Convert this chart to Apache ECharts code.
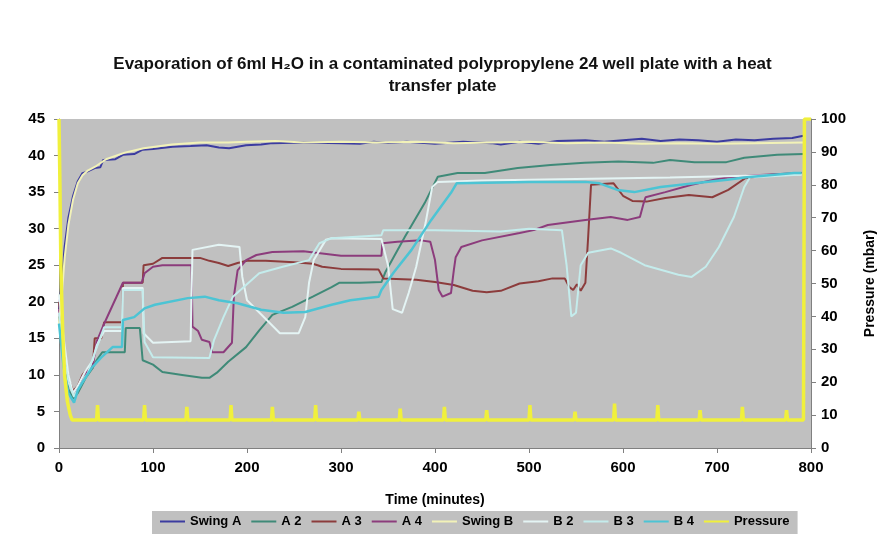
<!DOCTYPE html>
<html>
<head>
<meta charset="utf-8">
<script src="https://cdn.jsdelivr.net/npm/echarts@6/dist/echarts.min.js"></script>
<style>
html,body{margin:0;padding:0;background:#fff;}
#chart{width:885px;height:535px;}
</style>
</head>
<body>
<div id="chart"></div>
<script>
// ---- data (time in minutes, value) ----
const seriesNames = ['Swing A','A 2','A 3','A 4','Swing B','B 2','B 3','B 4','Pressure'];
const xTicks = [0,100,200,300,400,500,600,700,800];
const leftTicks = [0,5,10,15,20,25,30,35,40,45];
const rightTicks = [0,10,20,30,40,50,60,70,80,90,100];

const swingA = [[0,19],[3,23],[6,27.5],[10,31.5],[15,34.5],[20,36.5],[25,37.6],[30,37.8],[38,38.3],[44,38.4],[47,39.4],[60,39.5],[68,40.1],[80,40.2],[89,40.8],[100,40.9],[121,41.2],[140,41.3],[157,41.4],[170,41.1],[181,41.0],[190,41.2],[199,41.4],[215,41.5],[227,41.7],[260,41.8],[300,41.7],[320,41.6],[335,41.9],[350,41.7],[370,41.9],[400,41.6],[430,41.9],[460,41.7],[470,41.5],[490,41.9],[510,41.6],[530,42],[560,42.1],[580,41.9],[600,42.1],[620,42.3],[640,42],[660,42.2],[680,42.1],[700,41.9],[720,42.2],[740,42.1],[760,42.3],[780,42.4],[792,42.7]];

const a2 = [[0,18],[5,12],[10,8],[15,6.8],[20,7.5],[28,9.5],[36,11],[40,12],[46,13.1],[70,13.1],[71,16.4],[86,16.4],[89,12],[100,11.4],[110,10.4],[131,10],[152,9.6],[160,9.6],[168,10.3],[180,11.8],[199,13.8],[213,16.1],[227,18.2],[248,19.3],[270,20.7],[290,22],[298,22.6],[320,22.6],[343,22.7],[347,24],[368,28.9],[389,33.5],[403,37.1],[424,37.6],[453,37.6],[488,38.3],[523,38.7],[559,39],[595,39.2],[632,39],[650,39.4],[676,39.1],[710,39.1],[729,39.7],[764,40.1],[792,40.2]];

const a3 = [[0,20],[5,14],[10,9.5],[15,7.8],[20,8.5],[25,10],[30,10.8],[36,11],[38,15],[45,15],[48,17.2],[67,17.2],[68,22.6],[89,22.6],[90,25],[100,25.2],[110,26],[150,26],[160,25.6],[170,25.3],[180,24.9],[190,25.3],[200,25.6],[220,25.6],[250,25.4],[270,25.2],[280,24.8],[300,24.5],[340,24.4],[345,23.2],[380,23.0],[400,22.7],[420,22.3],[440,21.5],[455,21.3],[470,21.5],[490,22.5],[510,22.8],[525,23.2],[538,23.2],[543,22.0],[547,21.6],[551,22.4],[555,21.5],[560,22.6],[563,29],[566,36],[590,36.2],[600,34.5],[610,33.8],[625,33.7],[645,34.2],[670,34.6],[695,34.3],[712,35.3],[730,36.9],[760,37.4],[790,37.6]];

const a4 = [[0,19],[5,13],[10,9],[15,7.6],[20,8.2],[25,9.8],[30,10.5],[36,11.3],[40,14.5],[48,17],[68,22.6],[88,22.6],[91,23.9],[100,24.8],[110,25],[141,25],[142,16.6],[148,16],[152,14.8],[160,14.5],[163,13.1],[175,13.1],[184,14.4],[186,20.7],[190,24.3],[199,25.7],[210,26.4],[227,26.8],[260,26.9],[280,26.6],[300,26.3],[343,26.3],[344,28],[360,28.2],[385,28.4],[395,28.2],[400,25.7],[404,21.6],[408,20.7],[417,21.2],[420,24.3],[422,26.1],[428,27.5],[450,28.4],[490,29.4],[505,29.8],[520,30.5],[560,31.2],[587,31.6],[605,31.2],[618,31.6],[622,33.5],[624,34.3],[645,35],[673,36],[697,36.7],[711,37],[740,37.3],[790,37.6]];

const swingB = [[0,17],[3,21],[6,26],[10,30.5],[15,34],[20,36.2],[25,37.3],[30,37.9],[40,38.6],[50,39.5],[70,40.4],[90,41],[120,41.5],[150,41.8],[180,41.8],[200,41.9],[230,42],[260,41.8],[300,41.9],[340,41.8],[380,41.9],[420,41.7],[460,41.8],[500,41.9],[540,41.7],[580,41.8],[620,41.6],[660,41.7],[700,41.6],[740,41.7],[792,41.8]];

const b2 = [[0,21],[5,15],[10,10],[15,7.5],[20,8.5],[28,10.5],[36,12],[40,14],[48,16],[67,16],[68,21.9],[89,21.9],[90,15.7],[100,14.4],[140,14.6],[142,27.1],[170,27.8],[192,27.5],[195,23.4],[200,20.2],[221,17.5],[235,15.7],[255,15.7],[262,17.9],[266,22.6],[271,25.7],[284,28.5],[290,28.7],[343,28.6],[350,25],[355,19],[365,18.5],[372,21.2],[380,24.8],[390,30.8],[397,35.7],[403,36.4],[450,36.6],[550,36.8],[650,37],[790,37.4]];

const b3 = [[0,18.5],[5,13],[10,9],[16,7],[22,8.5],[30,10],[38,13],[48,16.5],[67,16.5],[68,21.6],[89,21.6],[91,14.5],[100,12.4],[160,12.3],[165,14.8],[175,17.9],[185,20.7],[213,23.9],[238,24.8],[266,25.7],[277,28],[290,28.7],[343,29.1],[345,29.8],[400,29.8],[470,29.6],[500,30],[535,29.8],[540,25],[545,18],[550,18.5],[555,25],[563,26.7],[587,27.3],[598,26.7],[623,25],[659,23.7],[673,23.4],[688,24.8],[702,27.5],[718,31.6],[729,35.7],[735,37],[790,37.4]];

const b4 = [[0,17],[5,11],[10,7.5],[16,6.2],[20,7.9],[25,9],[30,10],[35,11],[45,12.4],[57,13.8],[67,13.8],[68,17.5],[80,17.9],[91,19.1],[102,19.6],[137,20.5],[155,20.7],[170,20.2],[190,19.8],[215,18.9],[239,18.5],[262,18.6],[290,19.6],[310,20.2],[340,20.7],[343,21.6],[356,24],[375,27.1],[396,31.2],[417,34.9],[423,36.2],[500,36.4],[560,36.4],[575,36.2],[594,35.3],[612,35],[640,35.7],[676,36.2],[711,36.7],[729,37],[782,37.6],[790,37.6]];

const pressure = [[0,100],[1,80],[2,55],[4,35],[6,22],[9,14],[12,10],[14,8.5],[40,8.5],[41,13],[42,8.5],[90,8.5],[91,13],[92,8.5],[135,8.5],[136,12.5],[137,8.5],[182,8.5],[183,13],[184,8.5],[226,8.5],[227,12.5],[228,8.5],[272,8.5],[273,13],[274,8.5],[318,8.5],[319,11],[320,8.5],[362,8.5],[363,12],[364,8.5],[409,8.5],[410,12.5],[411,8.5],[454,8.5],[455,11.5],[456,8.5],[500,8.5],[501,13],[502,8.5],[548,8.5],[549,11],[550,8.5],[590,8.5],[591,13.5],[592,8.5],[636,8.5],[637,13],[638,8.5],[681,8.5],[682,11.5],[683,8.5],[726,8.5],[727,12.5],[728,8.5],[773,8.5],[774,11.5],[775,8.5],[792,8.5],[793,100],[800,100]];

const colors = ['#3c3ca0','#3f8a78','#8c3c3c','#8c3c7c','#f2f2b8','#e4f4f4','#c4ecec','#4cc4d4','#f0f03c'];
const dataSets = [swingA,a2,a3,a4,swingB,b2,b3,b4,pressure];
const widths = [2,2,2,2,2,2,2,2.5,3.5];

const chart = echarts.init(document.getElementById('chart'));
const FONT = 'Liberation Sans, Arial, sans-serif';
const labelStyle = {color:'#000',fontWeight:'bold',fontSize:15,fontFamily:FONT};
const axisLine = {show:true,lineStyle:{color:'#808080',width:1}};
const option = {
  backgroundColor:'#ffffff',
  animation:false,
  title:{
    text:'Evaporation of 6ml H\u2082O in a contaminated polypropylene 24 well plate with a heat\ntransfer plate',
    left:'center', top:48,
    textStyle:{fontSize:17,fontWeight:'bold',color:'#111',fontFamily:FONT,lineHeight:22}
  },
  legend:{
    data:seriesNames, left:152, top:511,
    backgroundColor:'#c0c0c0', padding:[4,8,6,8],
    icon:'rect', itemWidth:25, itemHeight:2, itemGap:10,
    textStyle:{color:'#000',fontWeight:'bold',fontSize:13,fontFamily:FONT}
  },
  grid:{left:59,right:71,top:119,bottom:87,show:true,backgroundColor:'#c0c0c0',borderWidth:0},
  xAxis:{type:'value',min:0,max:800,interval:100,
    name:'Time (minutes)',nameLocation:'middle',nameGap:45,
    nameTextStyle:{color:'#000',fontWeight:'bold',fontSize:14,fontFamily:FONT},
    axisLine:axisLine,axisTick:{show:true,length:5,lineStyle:{color:'#808080'}},
    axisLabel:Object.assign({margin:12},labelStyle),splitLine:{show:false}},
  yAxis:[
    {type:'value',min:0,max:45,interval:5,position:'left',
     axisLine:axisLine,axisTick:{show:true,length:5,lineStyle:{color:'#808080'}},
     axisLabel:Object.assign({margin:14},labelStyle),splitLine:{show:false}},
    {type:'value',min:0,max:100,interval:10,position:'right',
     name:'Pressure (mbar)',nameLocation:'middle',nameGap:52,nameRotate:90,
     nameTextStyle:{color:'#000',fontWeight:'bold',fontSize:14,fontFamily:FONT},
     axisLine:axisLine,axisTick:{show:true,length:5,lineStyle:{color:'#808080'}},
     axisLabel:Object.assign({margin:10},labelStyle),splitLine:{show:false}}
  ],
  series: seriesNames.map((n,i)=>({
    name:n,type:'line',data:dataSets[i],yAxisIndex:i===8?1:0,
    showSymbol:false,symbol:'none',
    lineStyle:{color:colors[i],width:widths[i]},itemStyle:{color:colors[i]},
    z:2+i
  }))
};
chart.setOption(option);
</script>
</body>
</html>
